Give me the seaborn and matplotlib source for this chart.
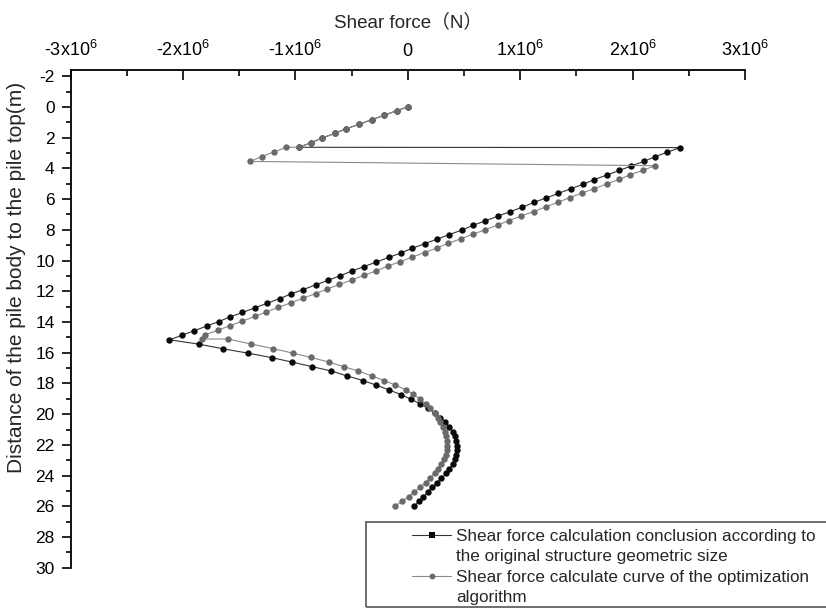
import numpy as np
import pandas as pd
import matplotlib
matplotlib.use("Agg")
import matplotlib.pyplot as plt
import seaborn as sns
from matplotlib.patches import Rectangle
from matplotlib.lines import Line2D
from matplotlib.ticker import MultipleLocator

sns.set_style("ticks")
plt.rcParams["font.family"] = ["Liberation Sans", "Noto Sans CJK SC", "DejaVu Sans"]
plt.rcParams["mathtext.default"] = "regular"
plt.rcParams["axes.unicode_minus"] = False

# ---------------- data (shear in units of 1e6 N, depth in m) ----------------
depth_orig = [
    0.00, 0.25, 0.55, 0.83, 1.13, 1.43, 1.73, 2.02, 2.33, 2.63,
    2.65, 2.95, 3.24, 3.55, 3.84, 4.14, 4.44, 4.73, 5.04, 5.33,
    5.63, 5.93, 6.22, 6.53, 6.82, 7.12, 7.42, 7.71, 8.02, 8.31,
    8.61, 8.91, 9.20, 9.51, 9.80, 10.10, 10.40, 10.69, 10.99, 11.29,
    11.59, 11.89, 12.18, 12.48, 12.78, 13.08, 13.38, 13.67, 13.97, 14.27,
    14.57, 14.87, 15.16,
    15.44, 15.75, 16.03, 16.32, 16.61, 16.91, 17.19, 17.51, 17.81, 18.11,
    18.41, 18.73, 19.03, 19.33, 19.63, 19.93, 20.24, 20.54, 20.84, 21.14,
    21.44, 21.74, 22.05, 22.35, 22.65, 22.95, 23.25, 23.56, 23.86, 24.16,
    24.46, 24.76, 25.07, 25.37, 25.67, 25.97,
]
shear_orig = [
    0.00, -0.10, -0.21, -0.32, -0.43, -0.55, -0.65, -0.76, -0.86, -0.97,
    2.42, 2.31, 2.20, 2.10, 1.99, 1.88, 1.77, 1.66, 1.56, 1.45,
    1.34, 1.23, 1.12, 1.02, 0.91, 0.80, 0.69, 0.58, 0.48, 0.37,
    0.26, 0.15, 0.04, -0.06, -0.17, -0.28, -0.39, -0.50, -0.60, -0.71,
    -0.82, -0.93, -1.04, -1.14, -1.25, -1.36, -1.47, -1.58, -1.68, -1.79,
    -1.90, -2.01, -2.12,
    -1.86, -1.64, -1.42, -1.21, -1.03, -0.85, -0.68, -0.54, -0.40, -0.28,
    -0.17, -0.06, 0.03, 0.11, 0.18, 0.24, 0.29, 0.33, 0.37, 0.40,
    0.42, 0.43, 0.44, 0.44, 0.43, 0.42, 0.40, 0.37, 0.34, 0.30,
    0.26, 0.22, 0.18, 0.14, 0.10, 0.06,
]

depth_opt = [
    0.00, 0.25, 0.55, 0.83, 1.13, 1.43, 1.73, 2.02, 2.33, 2.63,
    2.63, 2.93, 3.23, 3.55,
    3.83, 4.13, 4.42, 4.72, 5.02, 5.32, 5.61, 5.91, 6.20, 6.51,
    6.81, 7.10, 7.40, 7.69, 7.99, 8.29, 8.59, 8.88, 9.18, 9.48,
    9.78, 10.08, 10.37, 10.67, 10.96, 11.27, 11.56, 11.86, 12.15, 12.45,
    12.75, 13.05, 13.35, 13.64, 13.94, 14.24, 14.54, 14.83, 15.11,
    15.11, 15.44, 15.73, 16.03, 16.31, 16.61, 16.91, 17.19, 17.51, 17.81,
    18.11, 18.41, 18.71, 19.02, 19.32, 19.62, 19.92, 20.22, 20.53, 20.83,
    21.13, 21.43, 21.73, 22.04, 22.34, 22.64, 22.94, 23.24, 23.55, 23.85,
    24.15, 24.45, 24.75, 25.05, 25.36, 25.66, 25.96,
]
shear_opt = [
    0.00, -0.10, -0.21, -0.32, -0.43, -0.55, -0.65, -0.76, -0.86, -0.97,
    -1.08, -1.19, -1.30, -1.40,
    2.20, 2.09, 1.98, 1.88, 1.77, 1.66, 1.55, 1.44, 1.34, 1.23,
    1.12, 1.01, 0.90, 0.80, 0.69, 0.58, 0.47, 0.36, 0.26, 0.15,
    0.04, -0.07, -0.18, -0.28, -0.39, -0.50, -0.61, -0.72, -0.82, -0.93,
    -1.04, -1.15, -1.26, -1.36, -1.47, -1.58, -1.69, -1.80, -1.83,
    -1.60, -1.39, -1.20, -1.02, -0.86, -0.70, -0.57, -0.44, -0.32, -0.21,
    -0.11, -0.02, 0.05, 0.11, 0.16, 0.20, 0.24, 0.27, 0.29, 0.31,
    0.33, 0.34, 0.35, 0.35, 0.35, 0.34, 0.32, 0.30, 0.27, 0.24,
    0.20, 0.16, 0.11, 0.06, 0.01, -0.05, -0.11,
]

series_label_lines = [
    ["Shear force calculation conclusion according to",
     "the original structure geometric size"],
    ["Shear force calculate curve of the optimization",
     "algorithm"],
]
x_tick_values = [-3, -2, -1, 0, 1, 2, 3]
x_tick_labels = ["-3x10$^6$", "-2x10$^6$", "-1x10$^6$", "0",
                 "1x10$^6$", "2x10$^6$", "3x10$^6$"]
y_tick_values = list(range(-2, 31, 2))
x_title = "Shear force（N）"
y_title = "Distance of the pile body to the pile top(m)"

df_orig = pd.DataFrame({"shear": np.array(shear_orig) * 1e6, "depth": depth_orig})
df_opt = pd.DataFrame({"shear": np.array(shear_opt) * 1e6, "depth": depth_opt})

# ---------------- figure ----------------
fig = plt.figure(figsize=(8.26, 6.10), dpi=100)
W, H = 826, 610
ax_top, ax_bot = 70, 567.8
ax = fig.add_axes([70.5 / W, 1 - ax_bot / H, 674.5 / W, (ax_bot - ax_top) / H])

c_orig_line = "#333333"
c_orig_mark = "#0a0a0a"
c_opt_line = "#8a8a8a"
c_opt_mark = "#6a6a6a"
ms = 4.6
sns.lineplot(data=df_orig, x="shear", y="depth", sort=False, estimator=None,
             color=c_orig_line, lw=0.8, marker="o", markersize=ms,
             markeredgewidth=0, markerfacecolor=c_orig_mark, ax=ax, legend=False)
sns.lineplot(data=df_opt, x="shear", y="depth", sort=False, estimator=None,
             color=c_opt_line, lw=0.8, marker="o", markersize=ms,
             markeredgewidth=0, markerfacecolor=c_opt_mark, ax=ax, legend=False)

ax.set_xlim(-3e6, 3e6)
ax.set_ylim(30, -2.4)

ax.xaxis.tick_top()
ax.xaxis.set_label_position("top")
ax.set_xticks(np.array(x_tick_values) * 1e6)
ax.set_xticklabels(x_tick_labels)
ax.xaxis.set_minor_locator(MultipleLocator(0.5e6))
ax.set_yticks(y_tick_values)
ax.set_yticklabels([str(v) for v in y_tick_values])
ax.yaxis.set_minor_locator(MultipleLocator(1))

ax.tick_params(axis="x", which="both", direction="in", top=True, bottom=False,
               labeltop=True, labelbottom=False, width=1.2, colors="black",
               labelsize=13, pad=7.5)
ax.tick_params(axis="x", which="major", length=7.5)
ax.tick_params(axis="x", which="minor", length=4)
ax.tick_params(axis="y", which="both", direction="out", left=True, right=False,
               width=1.2, colors="black", labelsize=12.5, pad=5)
ax.tick_params(axis="y", which="major", length=6.5)
ax.tick_params(axis="y", which="minor", length=3.5)

for s in ["right", "bottom"]:
    ax.spines[s].set_visible(False)
for s in ["left", "top"]:
    ax.spines[s].set_color("black")
    ax.spines[s].set_linewidth(1.3)

ax.set_xlabel(x_title, fontsize=13.5)
ax.xaxis.set_label_coords(0.5, (ax_bot - 27) / (ax_bot - ax_top))
ax.set_ylabel(y_title, fontsize=15)
ax.yaxis.set_label_coords((26 - 70.5) / 674.5, (ax_bot - 277.5) / (ax_bot - ax_top))

# legend: handle sits on the first text line of each entry
fig.add_artist(Rectangle((366 / W, 3 / H), 600 / W, 85 / H,
                         transform=fig.transFigure, fill=False,
                         edgecolor="#555555", lw=1.2))
blank = Line2D([], [], color="none")
handles = [
    Line2D([0], [0], color=c_orig_line, lw=0.8, marker="s", markersize=4,
           markeredgewidth=0, markerfacecolor=c_orig_mark),
    blank,
    Line2D([0], [0], color=c_opt_line, lw=0.8, marker="o", markersize=4.2,
           markeredgewidth=0, markerfacecolor=c_opt_mark),
    blank,
]
labels = [series_label_lines[0][0], series_label_lines[0][1],
          series_label_lines[1][0], series_label_lines[1][1]]
leg = fig.legend(handles, labels, loc="upper left",
                 bbox_to_anchor=(412 / W, 1 - 529 / H), frameon=False,
                 fontsize=12.3, handlelength=2.3, handletextpad=0.3,
                 labelspacing=0.32, borderpad=0, borderaxespad=0)

fig.savefig("out.png", dpi=100)
